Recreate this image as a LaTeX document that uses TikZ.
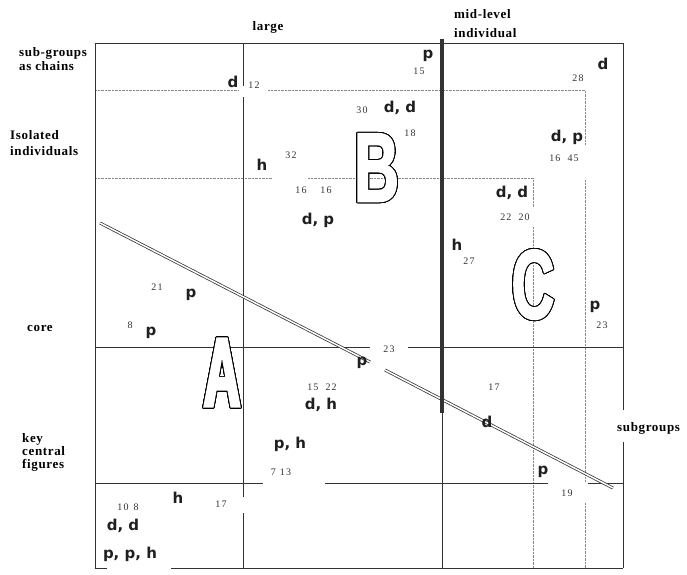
\documentclass[tikz,border=0pt]{standalone}
\usepackage{fontspec}
\usepackage{contour}
\setmainfont{Liberation Serif}
\newfontfamily\labfont[LetterSpace=5]{Liberation Serif}
\newfontfamily\numfont[LetterSpace=12]{Liberation Serif}
\newfontfamily\letfont{DejaVu Sans}
\newfontfamily\bigA[FakeStretch=0.52,FakeBold=3]{Liberation Sans}
\newfontfamily\bigB[FakeStretch=0.63,FakeBold=2]{Liberation Sans}
\newfontfamily\bigC[FakeStretch=0.60,FakeBold=2]{Liberation Sans}
\contourlength{0.9pt}
\contournumber{32}
\definecolor{ink}{HTML}{333333}
\definecolor{dotc}{HTML}{8A8A8A}
\begin{document}
\begin{tikzpicture}[x=1pt,y=-1pt,
  thin/.style={draw=ink, line width=0.8pt},
  heavy/.style={draw=ink, line width=3.6pt},
  dots/.style={draw=dotc, line width=0.7pt, dash pattern=on 0.6pt off 0.8pt},
  dbl/.style={draw=ink, line width=0.75pt, double=white, double distance=1.5pt},
  lab/.style={font=\labfont\bfseries\fontsize{13}{14}\selectfont, align=left, inner sep=0, anchor=west},
  let/.style={font=\letfont\bfseries\fontsize{15}{18}\selectfont, text=black!88, inner sep=0},
  num/.style={font=\numfont\fontsize{10}{12}\selectfont, text=ink, inner sep=0},
  big/.style={inner sep=0}
]
\useasboundingbox (0,0) rectangle (687,574);
\fill[white] (0,0) rectangle (687,574);

% coordinates
\coordinate (TL) at (95,43);
\coordinate (TR) at (623,43);
\coordinate (BL) at (95,568);
\coordinate (BR) at (623,568);

% dotted lines
\draw[dots] (95,90) -- (238,90);
\draw[dots] (268,90) -- (585,90) -- (585,145);
\draw[dots] (585,180) -- (585,482);
\draw[dots] (585,503) -- (585,568);
\draw[dots] (95,178) -- (272,178);
\draw[dots] (308,178) -- (533,178) -- (533,207);
\draw[dots] (533,227) -- (533,568);

% frame
\draw[thin] (TL) -- (TR);
\draw[thin] (TL) -- (BL) -- (107,568);
\draw[thin] (171,568) -- (BR);
\draw[thin] (TR) -- (623,410);
\draw[thin] (623,442) -- (BR);

% inner solid lines
\draw[thin] (243,43) -- (243,86);
\draw[thin] (243,97) -- (243,497);
\draw[thin] (243,513) -- (243,568);
\draw[thin] (95,347) -- (370,347);
\draw[thin] (408,347) -- (623,347);
\draw[thin] (95,483) -- (263,483);
\draw[thin] (325,483) -- (548,483);
\draw[thin] (588,483) -- (623,483);
\draw[thin] (442,413) -- (442,568);

% double diagonal
\draw[dbl] (100,223) -- (370,362);
\draw[dbl] (385,370) -- (613,488);

% heavy mid-level line
\draw[heavy] (442,39) -- (442,413);

% big outlined letters
\node[big] (bigA) at (222,373) {\bigA\bfseries\fontsize{98}{98}\selectfont\contour{black}{\textcolor{white}{A}}};
\node[big] (bigB) at (376.5,168) {\bigB\bfseries\fontsize{98}{98}\selectfont\contour{black}{\textcolor{white}{B}}};
\node[big] (bigC) at (533,285) {\bigC\bfseries\fontsize{98}{98}\selectfont\contour{black}{\textcolor{white}{C}}};

% axis labels
\node[lab, anchor=center] (large) at (268,27) {large};
\node[lab] (chains) at (19,59) {sub-groups\\as chains};
\node[lab] (isolated) at (10,143) {Isolated\\[2pt]individuals};
\node[lab] (core) at (27,328) {core};
\node[lab, font=\labfont\bfseries\fontsize{13}{13}\selectfont] (key) at (22,452) {key\\central\\figures};
\node[lab] (midlevel) at (454,24) {mid-level\\[5pt]individual};
\node[lab] (subgroups) at (617,428) {subgroups};

% letters
\node[let] (l1) at (233,82) {d};
\node[let] (l2) at (262,165) {h};
\node[let] (l3) at (318,220) {d, p};
\node[let] (l4) at (191,295) {p};
\node[let] (l5) at (151,333) {p};
\node[let] (l6) at (362,363) {p};
\node[let] (l7) at (428,56) {p};
\node[let] (l8) at (400,108) {d, d};
\node[let] (l9) at (603,64) {d};
\node[let] (l10) at (567,137) {d, p};
\node[let] (l11) at (512,193) {d, d};
\node[let] (l12) at (457,245) {h};
\node[let] (l13) at (595,307) {p};
\node[let] (l14) at (487,422) {d};
\node[let] (l15) at (543,472) {p};
\node[let] (l16) at (321,405) {d, h};
\node[let] (l17) at (290,444) {p, h};
\node[let] (l18) at (178,498) {h};
\node[let] (l19) at (123,526) {d, d};
\node[let] (l20) at (130,554) {p, p, h};

% numbers
\node[num] (n1) at (254,85) {12};
\node[num] (n2) at (291,155) {32};
\node[num] (n3) at (301,190) {16};
\node[num] (n4) at (326,190) {16};
\node[num] (n5) at (157,287) {21};
\node[num] (n6) at (130,325) {8};
\node[num] (n7) at (389,349) {23};
\node[num] (n8) at (419,71) {15};
\node[num] (n9) at (362,110) {30};
\node[num] (n10) at (410,133) {18};
\node[num] (n11) at (578,78) {28};
\node[num] (n12) at (564,158) {16\hspace{7pt}45};
\node[num] (n13) at (515,217) {22\hspace{7pt}20};
\node[num] (n14) at (469,261) {27};
\node[num] (n15) at (602,325) {23};
\node[num] (n16) at (494,387) {17};
\node[num] (n17) at (567,493) {19};
\node[num] (n18) at (322,387) {15\hspace{7pt}22};
\node[num] (n19) at (281,472) {7\hspace{4pt}13};
\node[num] (n20) at (128,507) {10\hspace{5pt}8};
\node[num] (n21) at (221,504) {17};
\end{tikzpicture}
\end{document}
